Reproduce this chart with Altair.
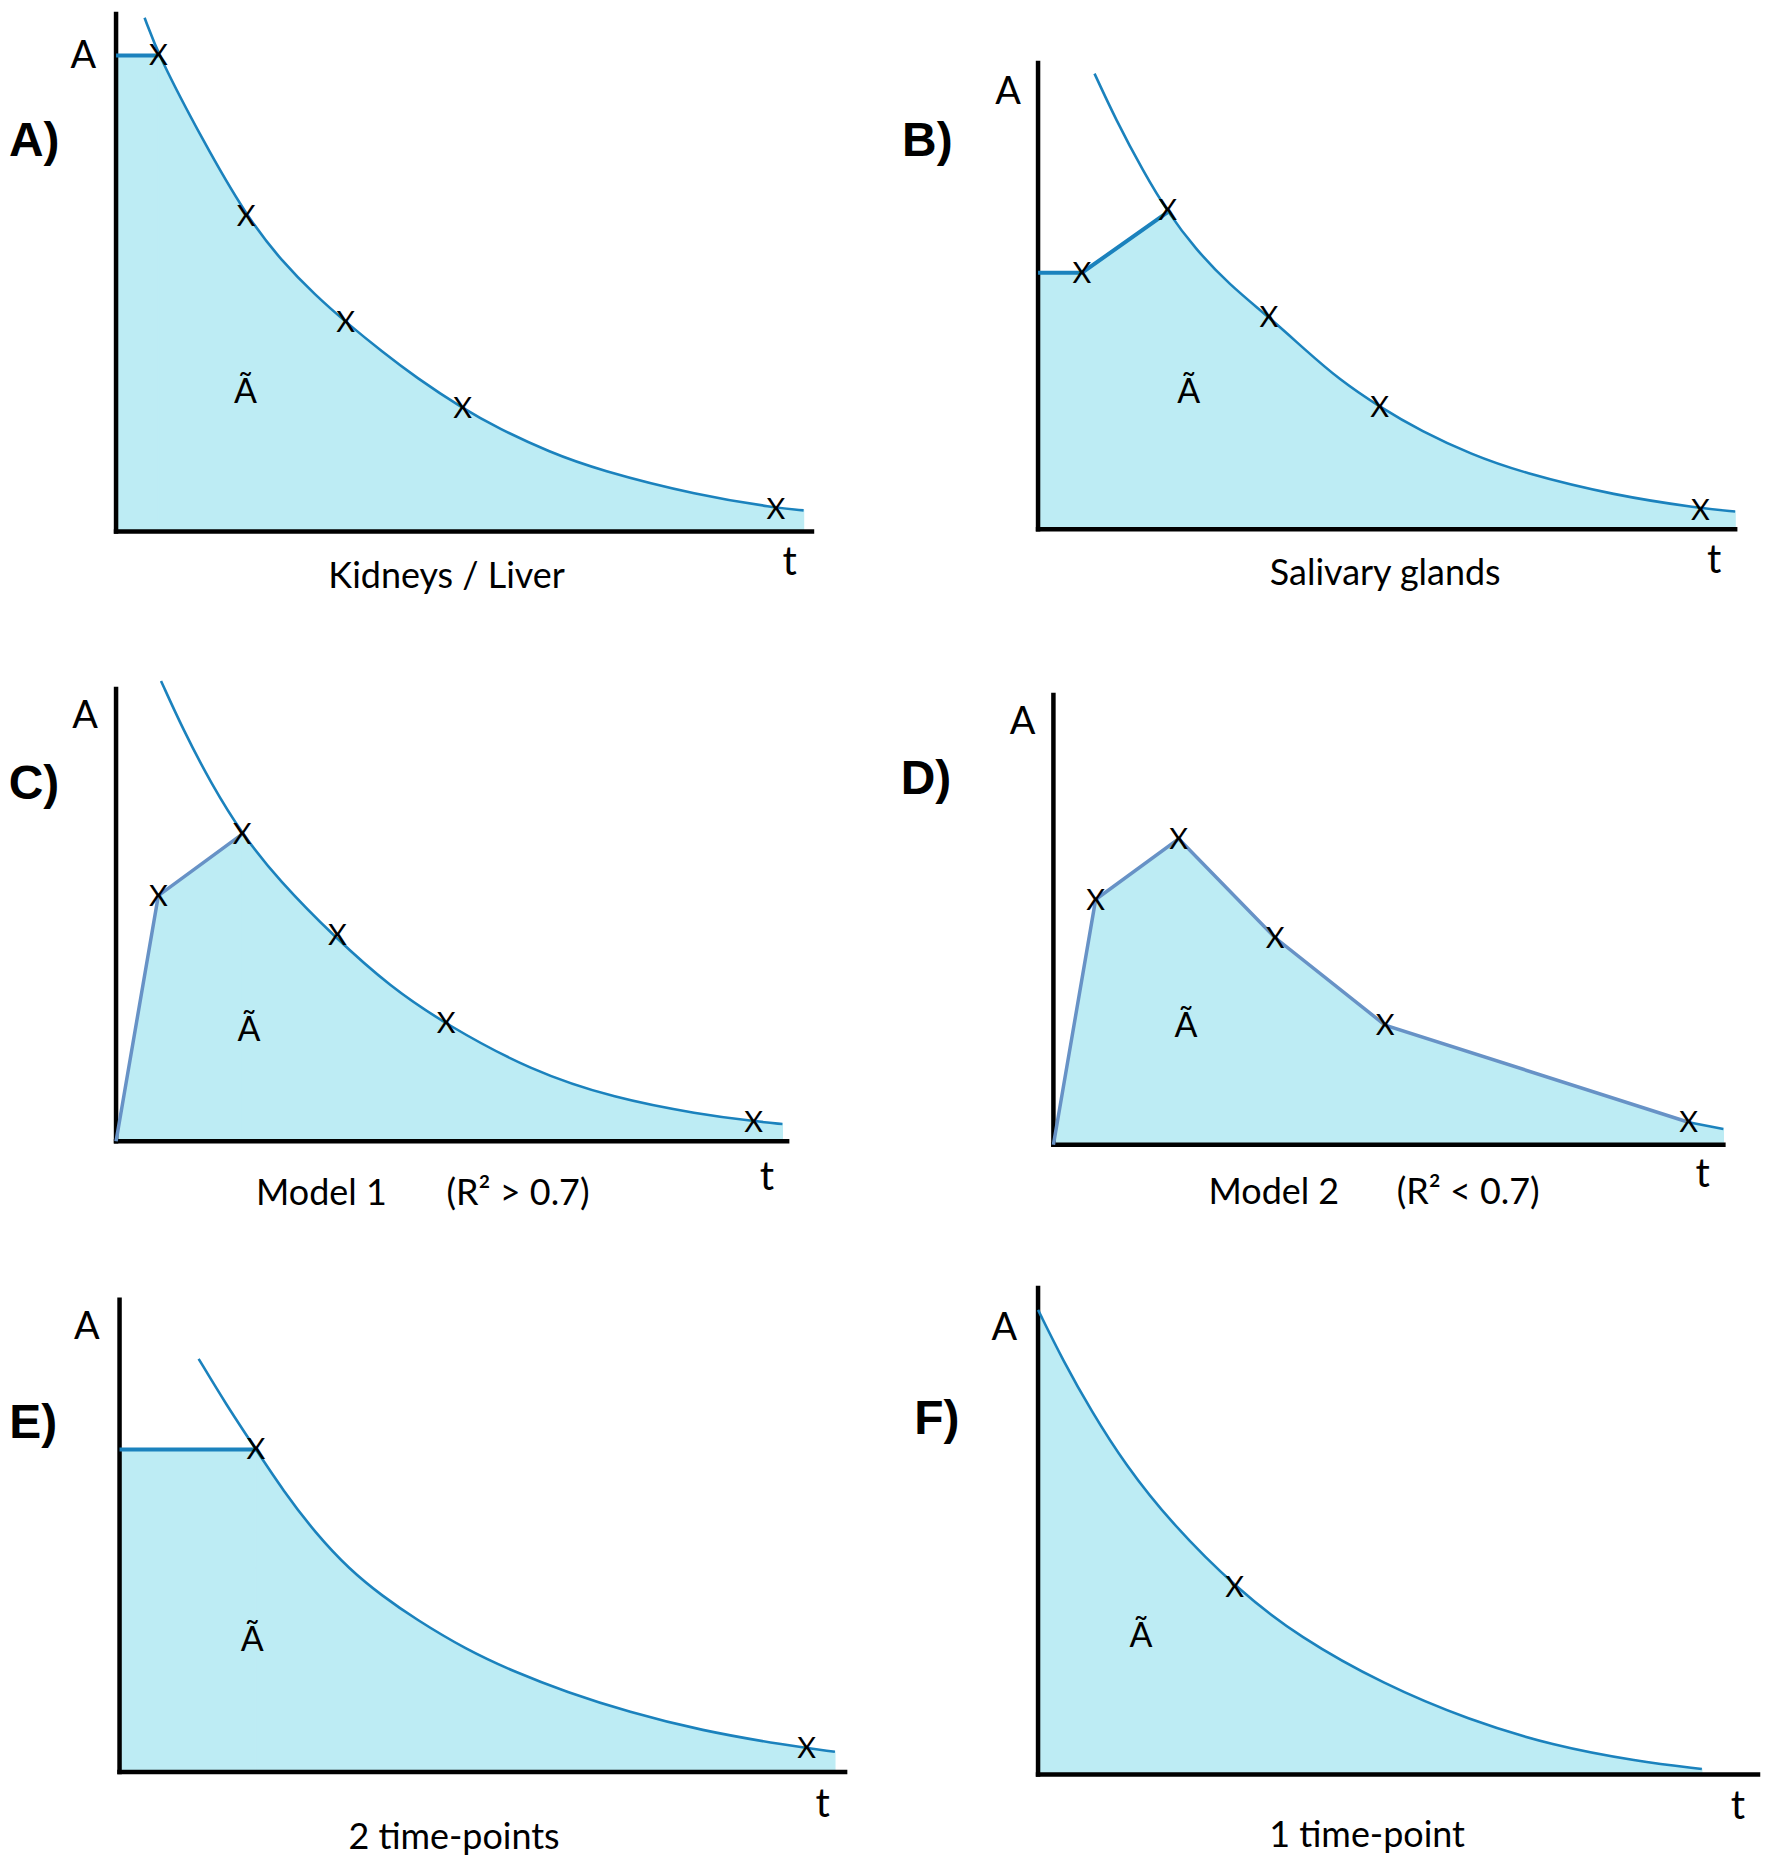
import altair as alt
import pandas as pd

# ---------------- data (t and A in axis units: each axis spans 0..10) ----------------
# Panel A) Kidneys / Liver
A_curve_t = [0.41, 0.61, 1.25, 1.87, 2.39, 2.87, 3.30, 3.83, 4.31, 4.98, 5.50, 6.22, 6.93, 8.36, 9.48, 9.88]
A_curve_a = [9.93, 9.20, 7.55, 6.10, 5.21, 4.56, 4.05, 3.47, 2.98, 2.38, 1.99, 1.54, 1.19, 0.70, 0.46, 0.41]
A_pts_t = [0.61, 1.87, 3.30, 4.98, 9.48]
A_pts_a = [9.20, 6.10, 4.05, 2.38, 0.43]
A_link_t = [0.0, 0.61]
A_link_a = [9.20, 9.20]

# Panel B) Salivary glands
B_curve_t = [0.81, 1.11, 1.52, 1.86, 2.25, 2.74, 3.31, 3.83, 4.31, 4.90, 5.50, 6.22, 6.93, 8.28, 9.50, 10.0]
B_curve_a = [9.77, 8.80, 7.64, 6.80, 6.02, 5.25, 4.55, 3.85, 3.22, 2.62, 2.10, 1.60, 1.22, 0.72, 0.45, 0.38]
B_pts_t = [0.63, 1.86, 3.31, 4.90, 9.50]
B_pts_a = [5.50, 6.85, 4.55, 2.62, 0.42]
B_link_t = [0.0, 0.63, 1.86]
B_link_a = [5.50, 5.50, 6.80]

# Panel C) Model 1 (R2 > 0.7)
C_curve_t = [0.67, 1.00, 1.42, 1.88, 2.42, 3.26, 4.09, 4.92, 6.18, 7.43, 8.68, 9.52, 9.93]
C_curve_a = [10.18, 9.10, 7.90, 6.79, 5.78, 4.51, 3.41, 2.58, 1.56, 0.95, 0.60, 0.44, 0.38]
C_pts_t = [0.63, 1.88, 3.30, 4.92, 9.50]
C_pts_a = [5.43, 6.79, 4.55, 2.62, 0.42]
C_link_t = [0.0, 0.63, 1.88]
C_link_a = [0.0, 5.43, 6.79]

# Panel D) Model 2 (R2 < 0.7)
D_curve_t = [9.48, 10.0]
D_curve_a = [0.50, 0.35]
D_pts_t = [0.63, 1.87, 3.31, 4.95, 9.48]
D_pts_a = [5.45, 6.80, 4.60, 2.66, 0.50]
D_link_t = [0.0, 0.63, 1.87, 3.31, 4.95, 9.48]
D_link_a = [0.0, 5.45, 6.80, 4.60, 2.66, 0.50]

# Panel E) 2 time-points
E_curve_t = [1.09, 1.47, 1.88, 2.25, 2.71, 3.17, 3.62, 4.08, 4.77, 5.46, 6.15, 7.02, 8.01, 9.17, 9.86]
E_curve_a = [8.75, 7.78, 6.83, 5.97, 5.04, 4.29, 3.73, 3.24, 2.60, 2.11, 1.70, 1.27, 0.88, 0.57, 0.43]
E_pts_t = [1.88, 9.47]
E_pts_a = [6.83, 0.50]
E_link_t = [0.0, 1.88]
E_link_a = [6.83, 6.83]

# Panel F) 1 time-point
F_curve_t = [0.0, 0.35, 0.74, 1.21, 1.84, 2.77, 3.63, 4.80, 5.98, 7.15, 8.32, 9.22]
F_curve_a = [9.55, 8.50, 7.47, 6.37, 5.18, 3.80, 2.82, 1.85, 1.12, 0.59, 0.27, 0.11]
F_pts_t = [2.73]
F_pts_a = [3.85]
F_link_t = []
F_link_a = []

# ---------------- texts ----------------
letters = ["A)", "B)", "C)", "D)", "E)", "F)"]
subtitles = [["Kidneys / Liver"], ["Salivary glands"], ["Model 1", "(R² > 0.7)"],
             ["Model 2", "(R² < 0.7)"], ["2 time-points"], ["1 time-point"]]

# ---------------- layout (page pixels / label placement in axis units) ----------------
CELL_W, CELL_H, PAGE = 877, 614, 8
BLUE = "#1b82bd"
GREYBLUE = "#6792c6"
FILL = "#bdecf4"

layout = [
    dict(col=0, row=0, ox=116.3, oy=526.7, ex=813.8, ey=8.0,
         letter=(-1.54, 7.53), alab=(-0.47, 9.17), tilde=(1.86, 2.68), tlab=(9.68, -0.60),
         sub=[(4.75, -0.87)], link_color=BLUE, link_w=4.0),
    dict(col=1, row=0, ox=1040.4, oy=524.3, ex=1739.1, ey=56.9,
         letter=(-1.95, 8.31), alab=(-0.43, 9.35), tilde=(2.16, 2.92), tlab=(9.70, -0.68),
         sub=[(4.98, -0.97)], link_color=BLUE, link_w=4.0),
    dict(col=0, row=1, ox=116.3, oy=1137.7, ex=788.9, ey=684.5,
         letter=(-1.60, 7.87), alab=(-0.46, 9.38), tilde=(1.98, 2.44), tlab=(9.70, -0.81),
         sub=[(3.06, -1.16), (5.99, -1.16)], link_color=GREYBLUE, link_w=3.5),
    dict(col=1, row=1, ox=1055.8, oy=1141.2, ex=1727.3, ey=690.4,
         letter=(-2.28, 8.10), alab=(-0.46, 9.38), tilde=(1.98, 2.62), tlab=(9.69, -0.68),
         sub=[(3.29, -1.07), (6.19, -1.07)], link_color=GREYBLUE, link_w=3.5),
    dict(col=0, row=2, ox=119.8, oy=1770.0, ex=847.0, ey=1296.6,
         letter=(-1.52, 7.37), alab=(-0.45, 9.40), tilde=(1.83, 2.77), tlab=(9.69, -0.69),
         sub=[(4.61, -1.40)], link_color=BLUE, link_w=4.0),
    dict(col=1, row=2, ox=1040.4, oy=1772.3, ex=1762.0, ey=1284.8,
         letter=(-1.72, 7.29), alab=(-0.47, 9.15), tilde=(1.43, 2.82), tlab=(9.72, -0.67),
         sub=[(4.57, -1.27)], link_color=BLUE, link_w=4.0),
]

series = [
    (A_curve_t, A_curve_a, A_pts_t, A_pts_a, A_link_t, A_link_a),
    (B_curve_t, B_curve_a, B_pts_t, B_pts_a, B_link_t, B_link_a),
    (C_curve_t, C_curve_a, C_pts_t, C_pts_a, C_link_t, C_link_a),
    (D_curve_t, D_curve_a, D_pts_t, D_pts_a, D_link_t, D_link_a),
    (E_curve_t, E_curve_a, E_pts_t, E_pts_a, E_link_t, E_link_a),
    (F_curve_t, F_curve_a, F_pts_t, F_pts_a, F_link_t, F_link_a),
]

TEXT_FONT = "Lato"
CURVE_INTERP = "basis"


def make_panel(i):
    L = layout[i]
    ct, ca, pt, pa, lt, la = series[i]
    sx = (L["ex"] - L["ox"]) / 10.0
    sy = (L["oy"] - L["ey"]) / 10.0
    left = PAGE + L["col"] * CELL_W
    top = PAGE + L["row"] * CELL_H
    xs = alt.Scale(domain=[(left - L["ox"]) / sx, (left + CELL_W - L["ox"]) / sx], nice=False, zero=False)
    ys = alt.Scale(domain=[(L["oy"] - top - CELL_H) / sy, (L["oy"] - top) / sy], nice=False, zero=False)

    def X(f="t"):
        return alt.X(f"{f}:Q", scale=xs, axis=None)

    def Y(f="a"):
        return alt.Y(f"{f}:Q", scale=ys, axis=None)

    layers = []

    # fill under the measured (straight) link segments
    if lt:
        link_fill = pd.DataFrame({"t": lt, "a": la, "base": [0.0] * len(lt)})
        layers.append(alt.Chart(link_fill).mark_area(color=FILL, opacity=1, interpolate="linear",
                                                     stroke=FILL, strokeWidth=1.2).encode(
            x=X(), y=Y(), y2="base:Q"))

    # fill under the fitted curve beyond the link
    last = lt[-1] if lt else -1.0
    ft = ([lt[-1]] if lt else []) + [t for t in ct if t > last + 0.05]
    fa = ([la[-1]] if lt else []) + [a for t, a in zip(ct, ca) if t > last + 0.05]
    if i == 3:  # model 2: fill follows the tail only
        ft, fa = list(ct), list(ca)
    curve_fill = pd.DataFrame({"t": ft, "a": fa, "base": [0.0] * len(ft)})
    layers.append(alt.Chart(curve_fill).mark_area(color=FILL, opacity=1, interpolate=CURVE_INTERP,
                                                  stroke=FILL, strokeWidth=1.2).encode(
        x=X(), y=Y(), y2="base:Q"))

    axes_df = pd.DataFrame({"t": [0.0, 0.0], "a": [0.0, 0.0], "t2": [0.0, 10.0], "a2": [10.0, 0.0]})
    layers.append(alt.Chart(axes_df).mark_rule(color="black", strokeWidth=4.5, strokeCap="square").encode(
        x=X(), y=Y(), x2="t2:Q", y2="a2:Q"))

    curve_df = pd.DataFrame({"t": ct, "a": ca})
    layers.append(alt.Chart(curve_df).mark_line(color=BLUE, strokeWidth=2.6, interpolate=CURVE_INTERP).encode(
        x=X(), y=Y()))

    if lt:
        link_df = pd.DataFrame({"t": lt, "a": la})
        layers.append(alt.Chart(link_df).mark_line(color=L["link_color"], strokeWidth=L["link_w"]).encode(
            x=X(), y=Y()))

    pts_df = pd.DataFrame({"t": pt, "a": pa, "lab": ["X"] * len(pt)})
    layers.append(alt.Chart(pts_df).mark_text(font=TEXT_FONT, fontSize=29, color="black",
                                               align="center", baseline="middle", dy=1).encode(
        x=X(), y=Y(), text="lab:N"))

    # annotations
    ann_rows = [
        dict(t=L["alab"][0], a=L["alab"][1], txt="A", size=38),
        dict(t=L["tilde"][0], a=L["tilde"][1], txt="Ã", size=34),
        dict(t=L["tlab"][0], a=L["tlab"][1], txt="t", size=40),
    ]
    for (st, sa), s in zip(L["sub"], subtitles[i]):
        ann_rows.append(dict(t=st, a=sa, txt=s, size=36))
    ann_df = pd.DataFrame(ann_rows)
    layers.append(alt.Chart(ann_df).mark_text(font=TEXT_FONT, color="black", align="center",
                                              baseline="middle").encode(
        x=X(), y=Y(), text="txt:N", size=alt.Size("size:Q", scale=None, legend=None)))

    let_df = pd.DataFrame({"t": [L["letter"][0]], "a": [L["letter"][1]], "txt": [letters[i]]})
    layers.append(alt.Chart(let_df).mark_text(font="Liberation Sans", fontWeight="bold", fontSize=48,
                                              color="black", align="left", baseline="middle").encode(
        x=X(), y=Y(), text="txt:N"))

    return alt.layer(*layers).properties(width=CELL_W, height=CELL_H)


panels = [make_panel(i) for i in range(6)]

chart = alt.concat(*panels, columns=2, spacing=0, bounds="flush").properties(
    padding=0
).configure_view(stroke=None)

chart.save("out.html", embed_options={"renderer": "svg", "actions": False})
